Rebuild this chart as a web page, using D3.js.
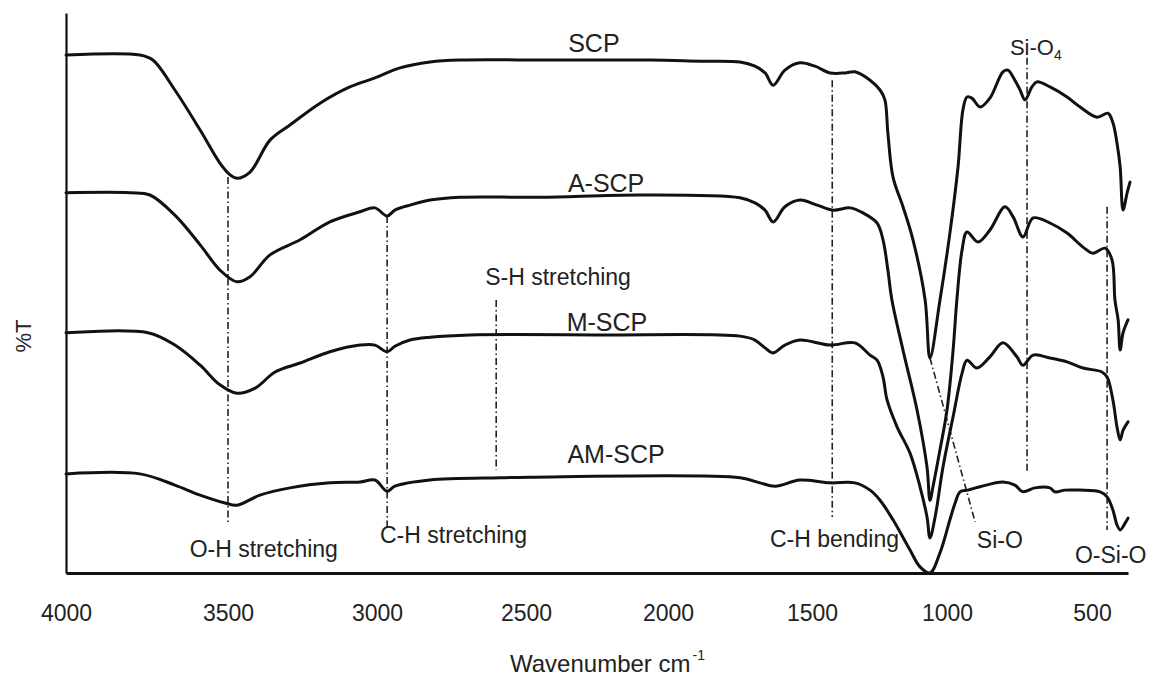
<!DOCTYPE html>
<html>
<head>
<meta charset="utf-8">
<script src="https://cdn.jsdelivr.net/npm/d3@7"></script>
<style>
  html, body { margin: 0; padding: 0; background: #ffffff; }
  svg { display: block; font-family: "Liberation Sans", Arial, sans-serif; }
</style>
</head>
<body>
<svg id="chart" width="1150" height="677"></svg>
<script>
// ---------- DATA ----------
const tickLabels = [4000, 3500, 3000, 2500, 2000, 1500, 1000, 500];

const seriesNames = ["SCP", "A-SCP", "M-SCP", "AM-SCP"];

const scpWn = [4000,3772,3732,3664,3586,3525,3493,3470,3426,3359,3292,3191,3091,3007,2923,2822,2721,2415,2063,1889,1750,1698,1663,1635,1594,1542,1489,1433,1378,1341,1285,1248,1230,1219,1200,1163,1126,1081,1063,1026,990,962,945,931,914,886,852,807,790,766,748,731,707,690,645,586,541,483,445,428,414,403,393,379,369];
const scpT  = [92.5,92.5,91.6,86.25,79.1,73.2,71.1,70.5,71.6,77.3,80.0,83.9,86.8,88.4,90.2,91.25,91.6,91.6,91.6,91.4,91.25,90.5,89.3,87.1,89.8,91.1,90.5,89.3,89.3,89.5,88.0,86.25,84.5,78.6,70.7,65.4,59.5,48.75,38.4,48.75,60.7,72.5,82.7,85.0,84.8,83.2,84.8,89.5,89.8,88.0,86.25,84.5,86.8,87.7,86.8,85.0,83.2,81.4,82.1,80.4,76.8,72.5,64.8,67.9,69.8];

const ascpWn = [4000,3802,3741,3664,3586,3525,3470,3426,3359,3258,3158,3057,3007,2966,2940,2889,2822,2721,2451,2099,1750,1698,1663,1635,1594,1542,1481,1422,1359,1311,1259,1237,1219,1204,1163,1111,1074,1063,1052,1026,1000,979,966,948,931,893,852,800,772,738,703,645,586,531,497,455,431,421,410,403,393,376];
const ascpT  = [67.9,67.9,67.5,63.9,58.6,54.1,52.0,52.9,56.8,59.5,62.7,64.5,65.2,63.75,64.8,65.7,66.6,67.1,67.1,67.5,67.0,66.1,64.8,62.7,65.4,66.6,65.7,64.8,65.2,64.3,62.5,59.5,54.1,48.75,39.8,29.1,18.9,13.0,15.4,22.0,29.1,39.8,48.75,57.7,60.9,59.1,61.25,65.4,63.6,60.0,63.4,62.5,60.7,58.2,57.1,58.0,55.9,48.75,45.2,39.8,42.9,45.2];

const mscpWn = [4000,3747,3664,3586,3525,3470,3409,3342,3258,3158,3057,3007,2966,2940,2889,2822,2688,2239,1750,1698,1663,1635,1594,1542,1433,1341,1285,1259,1237,1222,1185,1137,1100,1074,1063,1044,1015,979,948,931,897,852,807,759,738,703,645,586,531,466,448,428,414,403,393,376];
const mscpT  = [42.9,42.9,40.7,37.1,33.6,32.1,33.0,35.9,37.5,39.5,40.7,40.7,39.5,40.5,41.6,42.1,42.5,42.5,42.3,41.6,40.2,39.3,40.7,41.6,40.7,41.1,38.9,38.0,35.0,30.9,26.1,21.4,15.4,10.0,6.25,10.0,18.9,27.9,35.7,38.0,36.6,38.6,41.1,38.6,37.1,38.9,38.4,37.7,36.6,35.9,35.0,30.9,26.1,23.75,25.5,27.0];

const amscpWn = [4000,3772,3664,3586,3509,3470,3393,3292,3158,3057,3007,2966,2940,2822,2587,2486,1750,1681,1628,1542,1433,1341,1285,1248,1200,1137,1100,1063,1026,990,972,955,928,886,807,766,738,697,645,628,593,541,472,448,428,414,403,386,376];
const amscpT  = [17.7,17.7,15.7,13.9,12.5,12.1,13.9,15.2,16.1,16.25,16.6,14.6,15.5,16.6,17.0,17.1,17.0,16.1,15.5,16.6,16.1,16.1,14.8,13.0,9.5,4.1,1.1,0.0,3.6,9.5,12.5,14.5,14.8,15.4,16.25,15.7,14.5,15.2,15.2,14.5,14.8,14.8,14.5,13.6,11.25,8.6,7.7,8.9,9.8];

// band assignment markers: [wavenumber from, T from, wavenumber to, T to]
const bandNames  = ["O-H", "C-H str", "S-H", "C-H bend", "Si-O", "Si-O4", "O-Si-O"];
const bandWnTop  = [3500, 2966, 2600, 1425, 1063, 724, 448];
const bandTTop   = [70.7, 63.75, 48.75, 88.0, 38.4, 92.0, 65.4];
const bandWnBot  = [3500, 2966, 2600, 1425, 903, 724, 448];
const bandTBot   = [8.9, 8.2, 18.4, 10.0, 9.1, 17.9, 7.7];

// annotation texts with anchor positions (in data units)
const annTexts  = ["O-H stretching", "C-H stretching", "S-H stretching", "C-H bending", "Si-O", "O-Si-O"];
const annWn     = [3380, 2990, 2637, 1646, 897, 559];
const annT      = [2.9, 5.4, 51.4, 4.6, 4.5, 1.8];
const annAnchor = ["middle", "start", "start", "start", "start", "start"];

const seriesLabelWn = [2261, 2218, 2215, 2183];
const seriesLabelT  = [93.0, 68.0, 43.2, 19.6];

// ---------- LAYOUT ----------
const svg = d3.select("#chart");
// hand-drawn (slightly non-uniform) wavenumber axis of the original figure
const x = d3.scaleLinear()
  .domain([4000, 3500, 3000, 2500, 2000, 1500, 1000, 500, 376])
  .range([66, 228, 377, 526, 668, 812, 947, 1092, 1128]);
const y = d3.scaleLinear().domain([0, 100]).range([573, 13]);

// axes
const xAxis = d3.axisBottom(x).tickValues(tickLabels).tickSize(0).tickFormat(d3.format("d"));
const gx = svg.append("g").attr("transform", "translate(0,573)").call(xAxis);
gx.select(".domain").attr("stroke", "#111").attr("stroke-width", 3.2);
gx.selectAll(".tick text").attr("font-size", 23).attr("fill", "#222")
  .attr("font-family", "'Liberation Sans', Arial, sans-serif")
  .attr("dy", "0").attr("y", 48);

const yAxis = d3.axisLeft(y).tickValues([]).tickSize(0);
const gy = svg.append("g").attr("transform", "translate(66,0)").call(yAxis);
gy.select(".domain").attr("stroke", "#111").attr("stroke-width", 2.2);

// axis titles
const xt = svg.append("text").attr("x", 510).attr("y", 672).attr("text-anchor", "start")
  .attr("font-size", 24).attr("fill", "#222");
xt.append("tspan").text("Wavenumber cm");
xt.append("tspan").attr("font-size", 14).attr("dy", -12).attr("dx", 2).text("-1");

svg.append("text").attr("transform", "translate(31,336) rotate(-90)")
  .attr("text-anchor", "middle").attr("font-size", 22).attr("fill", "#222").text("%T");

// band marker lines (dash-dot)
bandNames.forEach((b, i) => {
  svg.append("line")
    .attr("x1", x(bandWnTop[i])).attr("y1", y(bandTTop[i]))
    .attr("x2", x(bandWnBot[i])).attr("y2", y(bandTBot[i]))
    .attr("stroke", "#222").attr("stroke-width", 1.6)
    .attr("stroke-dasharray", "7,3,1.5,3");
});

// spectra
const wnSets = [scpWn, ascpWn, mscpWn, amscpWn];
const tSets = [scpT, ascpT, mscpT, amscpT];
const line = d3.line().x(d => x(d[0])).y(d => y(d[1])).curve(d3.curveCatmullRom.alpha(0.5));
seriesNames.forEach((name, i) => {
  const pts = wnSets[i].map((w, j) => [w, tSets[i][j]]);
  svg.append("path").datum(pts)
    .attr("d", line)
    .attr("fill", "none").attr("stroke", "#111").attr("stroke-width", 3)
    .attr("stroke-linejoin", "round").attr("stroke-linecap", "round");
  svg.append("text").attr("x", x(seriesLabelWn[i])).attr("y", y(seriesLabelT[i]))
    .attr("text-anchor", "middle").attr("font-size", 25).attr("fill", "#222").text(name);
});

// annotation labels
annTexts.forEach((t, i) => {
  svg.append("text").attr("x", x(annWn[i])).attr("y", y(annT[i]))
    .attr("text-anchor", annAnchor[i]).attr("font-size", 23).attr("fill", "#222").text(t);
});
// Si-O4 with subscript
const sio4 = svg.append("text").attr("x", x(783)).attr("y", y(92.5)).attr("font-size", 22).attr("fill", "#222");
sio4.append("tspan").text("Si-O");
sio4.append("tspan").attr("font-size", 14).attr("dy", 5).text("4");
</script>
</body>
</html>
